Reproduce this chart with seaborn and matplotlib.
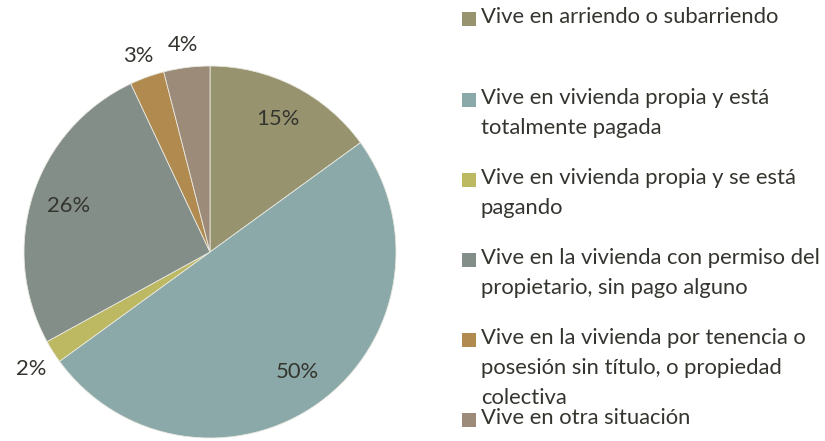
import numpy as np
import matplotlib
matplotlib.use("Agg")
import matplotlib.pyplot as plt
import seaborn as sns
from matplotlib.patches import Rectangle

categories = [
    "Vive en arriendo o subarriendo",
    "Vive en vivienda propia y está\ntotalmente pagada",
    "Vive en vivienda propia y se está\npagando",
    "Vive en la vivienda con permiso del\npropietario, sin pago alguno",
    "Vive en la vivienda por tenencia o\nposesión sin título, o propiedad\ncolectiva",
    "Vive en otra situación",
]
values = [15, 50, 2, 26, 3, 4]
colors = ["#96936E", "#8AA9A8", "#BDB862", "#848E89", "#B08A4F", "#9C8B78"]

sns.set_theme(style="white")
plt.rcParams["font.family"] = ["Lato", "DejaVu Sans"]
TXT = "#35352F"
FS = 15.8

fig = plt.figure(figsize=(8.25, 4.41), dpi=100)
W, H = 825, 441
cx, cy, R = 210, 252, 186
ax = fig.add_axes([(cx - R) / W, (H - cy - R) / H, 2 * R / W, 2 * R / H])

wedges, _ = ax.pie(values, colors=colors, startangle=90, counterclock=False,
                   wedgeprops=dict(edgecolor="#E8E8E0", linewidth=0.6))
ax.set_xlim(-1, 1)
ax.set_ylim(-1, 1)
ax.set_aspect("equal")
ax.axis("off")

for w, v in zip(wedges, values):
    ang = np.deg2rad((w.theta1 + w.theta2) / 2)
    d = 0.80 if v >= 5 else 1.14
    ax.text(d * np.cos(ang), d * np.sin(ang) - (0.02 if v < 5 else 0), f"{v}%",
            ha="center", va="center", fontsize=FS, color=TXT)

# legend
ys = [19, 100, 180, 260, 340, 420]
for lab, col, y in zip(categories, colors, ys):
    fig.patches.append(Rectangle((462 / W, (H - y - 7) / H), 14 / W, 14 / H,
                                 transform=fig.transFigure, facecolor=col,
                                 edgecolor="none"))
    fig.text(481 / W, (H - y + 12) / H, lab, ha="left", va="top",
             fontsize=FS, color=TXT, linespacing=1.62,
             transform=fig.transFigure)

fig.savefig("out.png", dpi=100)
